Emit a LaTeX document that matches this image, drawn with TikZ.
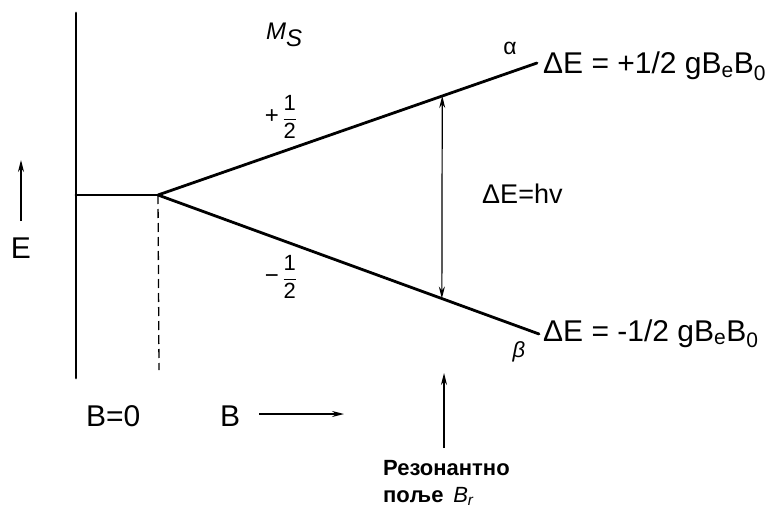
\documentclass[tikz,border=0pt]{standalone}
\usepackage{amsmath}
\usepackage{fontspec}
\setmainfont{Liberation Sans}
\usetikzlibrary{arrows.meta,positioning,calc}
\newcommand{\half}{\dfrac{\text{1}}{\text{2}}}

\begin{document}
\begin{tikzpicture}[x=1pt, y=-1pt,
    level/.style={line width=2.8pt, line cap=round},
    thinarr/.style={line width=1.4pt, -{Stealth[length=12pt, width=6pt]}},
    lbl/.style={font=\fontsize{30}{34}\selectfont, inner sep=0pt, anchor=base west},
    spin/.style={font=\fontsize{22}{26}\selectfont, inner sep=0pt},
    greek/.style={font=\fontsize{23}{26}\selectfont, inner sep=0pt},
    res/.style={font=\fontsize{22}{26}\selectfont\bfseries, inner sep=0pt, anchor=base west}
]
\useasboundingbox (0,0) rectangle (768,508);

\coordinate (top) at (76, 13);
\coordinate (bot) at (76, 378);
\coordinate (zero) at (76, 195);
\coordinate (split) at (158, 195);
\coordinate (alpha) at (537, 63);
\coordinate (beta) at (539, 334);
\coordinate (dash) at (159, 370);

\draw[level] (top) -- (bot);
\draw[level] (zero) -- (split);
\draw[level] (split) -- (alpha);
\draw[level] (split) -- (beta);
\draw[line width=1.3pt, dash pattern=on 9pt off 5pt] (split) -- (dash);

% transition
\coordinate (up) at ($(split)!0.75!(alpha)$);
\coordinate (dn) at ($(split)!0.745!(beta)$);
\draw[line width=1.2pt, {Stealth[length=12pt, width=6pt]}-{Stealth[length=12pt, width=6pt]}] (dn) -- (up);

\node[lbl] (ea) at (543, 74) {ΔE = +1/2 gB\textsubscript{e}B\textsubscript{0}};
\node[lbl] (eb) at (543, 341) {ΔE = -1/2 gB\textsubscript{e}B\textsubscript{0}};
\node[lbl, font=\fontsize{27}{30}\selectfont] (hv) at (482, 203) {ΔE=hv};

\node[greek] (a) at (510, 48) {α};
\node[greek, font=\fontsize{22}{26}\selectfont\itshape] (b) at (519, 352) {β};
\node[greek, font=\fontsize{24}{28}\selectfont\itshape, anchor=base west] (ms) at (266, 40) {M\raisebox{-7pt}{S}};
\node[spin] (plus) at (281, 117) {\raisebox{1pt}{\fontsize{24}{28}\selectfont +}\,$\half$};
\node[spin] (minus) at (281, 277) {\raisebox{1pt}{\fontsize{24}{28}\selectfont −}\,$\half$};

% axes
\coordinate (e1) at (21, 221);
\coordinate (e2) at (21, 160);
\draw[thinarr] (e1) -- (e2);
\node[lbl, anchor=base] (E) at (21, 258) {E};
\node[lbl] (b0) at (86, 426) {B=0};
\node[lbl] (bb) at (220, 426) {B};
\coordinate (bx1) at (259, 414);
\coordinate (bx2) at (344, 414);
\draw[thinarr] (bx1) -- (bx2);

\coordinate (r1) at (444, 448);
\coordinate (r2) at (444, 373);
\draw[thinarr] (r1) -- (r2);
\node[res] (reson) at (383, 475) {Резонантно};
\node[res] (polje) at (383, 502) {поље \,\textmd{\itshape B\textsubscript{r}}};
\end{tikzpicture}
\end{document}
